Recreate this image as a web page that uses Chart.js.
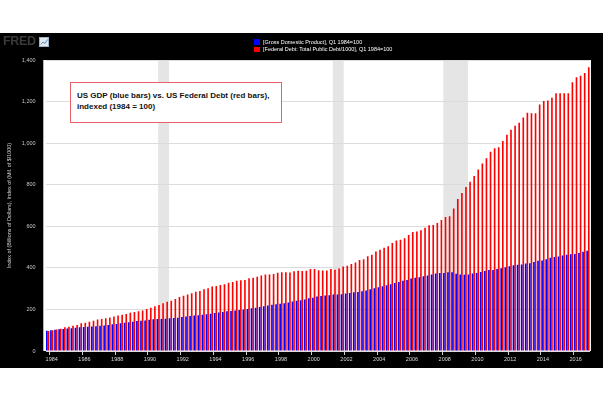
<!DOCTYPE html>
<html>
<head>
<meta charset="utf-8">
<script src="https://cdn.jsdelivr.net/npm/chart.js@4/dist/chart.umd.min.js"></script>
<style>
  body { margin: 0; background: #fff; width: 603px; height: 402px; position: relative; overflow: hidden; font-family: "Liberation Sans", Arial, sans-serif; }
  #frame { position: absolute; left: 0; top: 33px; width: 603px; height: 335px; background: #000; }
  #frame canvas { position: absolute; left: 0; top: 0; }
  #logo { position: absolute; left: 3px; top: 35px; font: bold 12.5px/13px "Liberation Sans", Arial, sans-serif; color: #3a3a3a; letter-spacing: -0.3px; }
  #logo svg { position: absolute; left: 36px; top: 2px; }
  .key { position: absolute; left: 254px; width: 6px; height: 5.5px; }
  .keytext { position: absolute; left: 263px; font-size: 5.5px; line-height: 7px; color: #fff; white-space: nowrap; }
  #note { position: absolute; left: 70px; top: 82px; width: 204px; height: 32px; padding: 7px 0 0 6px; background: #fff; border: 1px solid #e8606a; font-weight: bold; font-size: 8px; line-height: 11px; color: #111; }
</style>
</head>
<body>
<div id="frame"><canvas id="gdpDebtChart" width="603" height="335"></canvas></div>
<div id="logo">FRED<svg width="10" height="10" viewBox="0 0 10 10"><rect x="0.5" y="0.5" width="9" height="9" fill="#dfe7ef" stroke="#9fb3c8" stroke-width="1"/><polyline points="1.5,7.5 4,5 6,6.5 8.5,2.5" fill="none" stroke="#5f8fc0" stroke-width="1"/></svg></div>
<div class="key" style="top:39px;background:#0000ff"></div>
<div class="key" style="top:46.5px;background:#ff0000"></div>
<div class="keytext" style="top:38.5px">[Gross Domestic Product], Q1 1984=100</div>
<div class="keytext" style="top:45.5px">[Federal Debt: Total Public Debt/1000], Q1 1984=100</div>
<div id="note">US GDP (blue bars) vs. US Federal Debt (red bars),<br>indexed (1984 = 100)</div>
<script>
// Quarterly, Q4 1983 through Q4 2016
const firstYear = 1983;
const firstQuarter = 4;
const quarterCount = 133;
const quarters = [];
for (let i = 0; i < quarterCount; i++) {
    const q = firstQuarter - 1 + i;
    quarters.push((firstYear + Math.floor(q / 4)) + ' Q' + (q % 4 + 1));
}

const tickYears = ['1984', '1986', '1988', '1990', '1992', '1994', '1996', '1998', '2000',
                   '2002', '2004', '2006', '2008', '2010', '2012', '2014', '2016'];

// Gross Domestic Product, Q1 1984 = 100
const gdpIndex = [
    97.0,
    100.0, 102.6, 104.5, 106.0,
    108.3, 110.0, 112.3, 113.8,
    115.4, 116.4, 118.1, 119.3,
    121.0, 123.2, 125.2, 128.4,
    130.1, 133.1, 135.4, 138.3,
    141.3, 143.8, 146.0, 147.3,
    150.5, 152.7, 154.1, 153.9,
    154.7, 157.0, 158.9, 160.5,
    163.1, 165.9, 168.3, 171.2,
    172.5, 174.5, 176.4, 179.7,
    182.4, 185.8, 187.9, 191.1,
    192.8, 194.4, 196.9, 199.3,
    201.7, 206.0, 208.5, 211.8,
    214.7, 218.6, 222.1, 224.6,
    227.2, 229.9, 233.7, 238.3,
    241.4, 244.2, 248.2, 253.7,
    256.4, 262.7, 264.7, 267.6,
    268.5, 271.9, 271.9, 273.5,
    276.9, 279.4, 282.1, 283.8,
    287.0, 290.6, 297.1, 302.0,
    306.4, 311.3, 316.1, 321.0,
    327.5, 331.6, 337.5, 342.0,
    348.8, 352.7, 355.4, 359.5,
    363.7, 368.6, 372.3, 375.3,
    374.9, 378.6, 379.3, 371.8,
    367.6, 366.5, 367.6, 372.3,
    375.2, 380.5, 384.8, 389.2,
    389.4, 395.1, 398.3, 403.4,
    408.2, 412.0, 414.7, 416.5,
    421.0, 422.7, 428.0, 434.4,
    435.1, 441.7, 449.0, 452.1,
    454.5, 460.0, 463.6, 465.7,
    467.2, 471.5, 477.3, 482.2
];

// Federal Debt: Total Public Debt / 1000, Q1 1984 = 100
const debtIndex = [
    96.4,
    100.0, 103.4, 107.5, 113.7,
    116.9, 121.3, 124.6, 133.0,
    135.8, 140.7, 145.3, 151.4,
    153.6, 157.8, 160.6, 166.4,
    170.4, 174.6, 177.9, 183.5,
    187.3, 191.2, 195.3, 201.8,
    208.6, 214.9, 221.0, 230.0,
    236.8, 241.8, 250.5, 259.8,
    265.3, 272.3, 277.8, 285.5,
    289.2, 297.4, 301.5, 310.0,
    312.8, 317.5, 320.7, 328.1,
    332.4, 338.4, 340.0, 341.0,
    349.8, 352.7, 357.1, 363.8,
    367.8, 367.5, 370.0, 376.1,
    378.8, 379.2, 377.7, 383.7,
    386.3, 385.4, 386.6, 394.8,
    394.6, 388.6, 387.8, 387.0,
    394.6, 391.4, 396.9, 406.2,
    410.5, 418.7, 425.7, 437.8,
    441.6, 455.9, 463.6, 478.3,
    487.4, 497.2, 504.3, 519.2,
    531.5, 535.6, 542.2, 558.4,
    572.2, 575.5, 581.4, 593.3,
    604.9, 606.1, 615.7, 630.8,
    645.0, 648.8, 685.2, 731.3,
    760.5, 789.1, 814.0, 841.5,
    873.0, 902.3, 926.9, 958.6,
    975.3, 980.3, 1010.9, 1040.4,
    1065.0, 1083.7, 1098.1, 1123.1,
    1146.3, 1144.0, 1144.0, 1186.0,
    1203.0, 1205.1, 1218.2, 1239.9,
    1240.6, 1240.6, 1240.5, 1293.3,
    1316.7, 1324.7, 1337.8, 1365.4
];

// Recessions (year-month)
const recessionStarts = ['1990-07', '2001-03', '2007-12'];
const recessionEnds = ['1991-03', '2001-11', '2009-06'];

function monthToIndex(s) {
    const parts = s.split('-');
    const y = parseInt(parts[0]), m = parseInt(parts[1]);
    return (y - firstYear) * 4 + (m - 1) / 3 - (firstQuarter - 1);
}

// white plot background plus grey recession bands
const plotBackground = {
    id: 'plotBackground',
    beforeDraw(chart) {
        const a = chart.chartArea;
        const x = chart.scales.x;
        const c = chart.ctx;
        c.save();
        c.fillStyle = '#ffffff';
        c.fillRect(a.left - 2.3, a.top, a.right - a.left + 3.3, a.bottom - a.top);
        c.fillStyle = '#e5e5e5';
        for (let i = 0; i < recessionStarts.length; i++) {
            const x0 = x.getPixelForValue(monthToIndex(recessionStarts[i]));
            const x1 = x.getPixelForValue(monthToIndex(recessionEnds[i]));
            c.fillRect(x0, a.top, x1 - x0, a.bottom - a.top);
        }
        c.restore();
    }
};

const ctx = document.getElementById('gdpDebtChart').getContext('2d');
const gdpDebtChart = new Chart(ctx, {
    type: 'bar',
    data: {
        labels: quarters,
        datasets: [{
            label: '[Gross Domestic Product], Q1 1984=100',
            data: gdpIndex,
            backgroundColor: '#0000ff',
            categoryPercentage: 0.8,
            barPercentage: 1
        }, {
            label: '[Federal Debt: Total Public Debt/1000], Q1 1984=100',
            data: debtIndex,
            backgroundColor: '#ff0000',
            categoryPercentage: 0.8,
            barPercentage: 1
        }]
    },
    options: {
        responsive: false,
        animation: false,
        layout: { padding: { top: 27, right: 13, bottom: 0, left: 0 } },
        plugins: {
            legend: { display: false },
            tooltip: { enabled: false }
        },
        scales: {
            x: {
                border: { display: false },
                grid: {
                    drawOnChartArea: false,
                    tickLength: 4,
                    color: c => (c.tick && c.tick.label) ? '#d0d0d0' : 'rgba(0,0,0,0)'
                },
                ticks: {
                    autoSkip: false,
                    maxRotation: 0,
                    padding: 1,
                    color: '#d8d8d8',
                    font: { family: 'Liberation Sans', size: 5.5 },
                    callback: function(value, index) {
                        const parts = quarters[index].split(' ');
                        return (parts[1] === 'Q1' && tickYears.includes(parts[0])) ? parts[0] : '';
                    }
                },
                afterFit: s => { s.height = 17; }
            },
            y: {
                min: 0,
                max: 1400,
                border: { display: false },
                grid: { color: '#dcdcdc', drawTicks: false },
                ticks: {
                    stepSize: 200,
                    padding: 10,
                    color: '#c8c8c8',
                    font: { family: 'Liberation Sans', size: 5.5 },
                    callback: v => v.toLocaleString('en-US')
                },
                title: {
                    display: true,
                    text: 'Index of (Billions of Dollars), Index of (Mil. of $/1000)',
                    color: '#d0d0d0',
                    font: { family: 'Liberation Sans', size: 5.4 },
                    padding: { top: 6, bottom: 0 }
                },
                afterFit: s => { s.width = 45.6; }
            }
        }
    },
    plugins: [plotBackground]
});
</script>
</body>
</html>
